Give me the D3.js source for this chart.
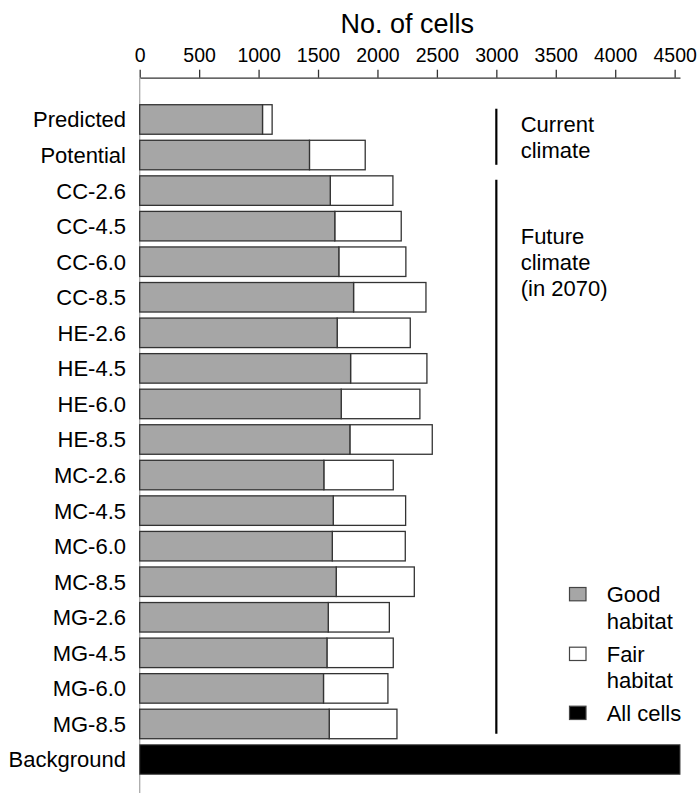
<!DOCTYPE html>
<html>
<head>
<meta charset="utf-8">
<script src="https://cdn.jsdelivr.net/npm/d3@7"></script>
<style>
  body { margin: 0; background: #fff; }
  text { font-family: "Liberation Sans", Arial, sans-serif; fill: #000; }
</style>
</head>
<body>
<div id="chart"></div>
<script>
// data
const categories = ["Predicted", "Potential", "CC-2.6", "CC-4.5", "CC-6.0", "CC-8.5",
    "HE-2.6", "HE-4.5", "HE-6.0", "HE-8.5", "MC-2.6", "MC-4.5", "MC-6.0", "MC-8.5",
    "MG-2.6", "MG-4.5", "MG-6.0", "MG-8.5", "Background"];
const goodHabitat = [1033, 1428, 1603, 1641, 1675, 1799, 1661, 1774, 1695, 1768,
    1549, 1628, 1620, 1653, 1586, 1575, 1546, 1594, 0];
const fairHabitat = [81, 469, 527, 559, 564, 609, 615, 642, 662, 693,
    584, 609, 614, 657, 514, 558, 542, 570, 0];
const allCells = [0, 0, 0, 0, 0, 0, 0, 0, 0, 0, 0, 0, 0, 0, 0, 0, 0, 0, 4545];
const xTicks = [0, 500, 1000, 1500, 2000, 2500, 3000, 3500, 4000, 4500];
const groups = [
    {from: "Predicted", to: "Potential", lines: ["Current", "climate"]},
    {from: "CC-2.6", to: "MG-8.5", lines: ["Future", "climate", "(in 2070)"]}
];
const legendItems = [
    {lines: ["Good", "habitat"], fill: "#a6a6a6"},
    {lines: ["Fair", "habitat"], fill: "#ffffff"},
    {lines: ["All cells"], fill: "#000000"}
];

const W = 699, H = 793;
const svg = d3.select("#chart").append("svg")
    .attr("width", W)
    .attr("height", H);

const x = d3.scaleLinear().domain([0, 4545]).range([139.7, 680]);
const y = d3.scaleBand().domain(categories).range([101.7, 777.3])
    .paddingInner(0.17).paddingOuter(0.085);

const axisY = 77.7;

// title
svg.append("text")
    .attr("x", (x(0) + x(4500)) / 2)
    .attr("y", 33)
    .attr("text-anchor", "middle")
    .attr("font-size", "27px")
    .text("No. of cells");

// top axis
const ax = svg.append("g")
    .attr("transform", `translate(0,${axisY})`)
    .call(d3.axisTop(x).tickValues(xTicks).tickFormat(d3.format("d"))
        .tickSize(8).tickSizeOuter(0).tickPadding(8));
ax.selectAll("text").attr("font-size", "19.5px").attr("fill", "#000")
    .style("font-family", "'Liberation Sans', Arial, sans-serif");
ax.select(".domain").attr("stroke", "#333").attr("stroke-width", 1.3);
ax.selectAll(".tick line").attr("stroke", "#333").attr("stroke-width", 1.3);

// vertical axis line
svg.append("line")
    .attr("x1", x(0)).attr("x2", x(0))
    .attr("y1", axisY).attr("y2", H)
    .attr("stroke", "#aaa").attr("stroke-width", 1.3);

const rows = categories.map((c, i) => ({cat: c, good: goodHabitat[i], fair: fairHabitat[i], all: allCells[i]}));

const bars = svg.append("g").selectAll("g")
    .data(rows)
    .enter()
    .append("g");

bars.filter(d => d.all > 0).append("rect")
    .attr("x", x(0))
    .attr("y", d => y(d.cat))
    .attr("width", d => x(d.all) - x(0))
    .attr("height", y.bandwidth())
    .attr("fill", "#000")
    .attr("stroke", "#444")
    .attr("stroke-width", 1);

bars.filter(d => d.all === 0).append("rect")
    .attr("x", d => x(d.good))
    .attr("y", d => y(d.cat))
    .attr("width", d => x(d.good + d.fair) - x(d.good))
    .attr("height", y.bandwidth())
    .attr("fill", "#fff")
    .attr("stroke", "#333")
    .attr("stroke-width", 1.3);

bars.filter(d => d.all === 0).append("rect")
    .attr("x", x(0))
    .attr("y", d => y(d.cat))
    .attr("width", d => x(d.good) - x(0))
    .attr("height", y.bandwidth())
    .attr("fill", "#a6a6a6")
    .attr("stroke", "#333")
    .attr("stroke-width", 1.3);

// category labels
svg.append("g").selectAll("text")
    .data(categories)
    .enter()
    .append("text")
    .attr("x", 126)
    .attr("y", d => y(d) + y.bandwidth() / 2)
    .attr("dy", "0.36em")
    .attr("text-anchor", "end")
    .attr("font-size", "22px")
    .text(d => d);

// group brackets
groups.forEach(g => {
    const top = y(g.from) + 4, bottom = y(g.to) + y.bandwidth() - 5;
    svg.append("line")
        .attr("x1", x(3000)).attr("x2", x(3000))
        .attr("y1", top).attr("y2", bottom)
        .attr("stroke", "#000").attr("stroke-width", 2.2);
});
svg.append("text").attr("x", 520.7).attr("y", 132).attr("font-size", "22px")
    .selectAll("tspan").data(groups[0].lines).enter().append("tspan")
    .attr("x", 520.7).attr("dy", (d, i) => i ? 26 : 0).text(d => d);
svg.append("text").attr("x", 520.7).attr("y", 244.3).attr("font-size", "22px")
    .selectAll("tspan").data(groups[1].lines).enter().append("tspan")
    .attr("x", 520.7).attr("dy", (d, i) => i ? 25.7 : 0).text(d => d);

// legend
const legendY = [602, 661.7, 720.7];
legendItems.forEach((d, i) => {
    svg.append("rect")
        .attr("x", 569.5).attr("y", legendY[i] - 14.5)
        .attr("width", 16.5).attr("height", 13.3)
        .attr("fill", d.fill)
        .attr("stroke", "#444").attr("stroke-width", 1.2);
    svg.append("text").attr("x", 606.7).attr("y", legendY[i]).attr("font-size", "22px")
        .selectAll("tspan").data(d.lines).enter().append("tspan")
        .attr("x", 606.7).attr("dy", (t, j) => j ? 26.5 : 0).text(t => t);
});
</script>
</body>
</html>
